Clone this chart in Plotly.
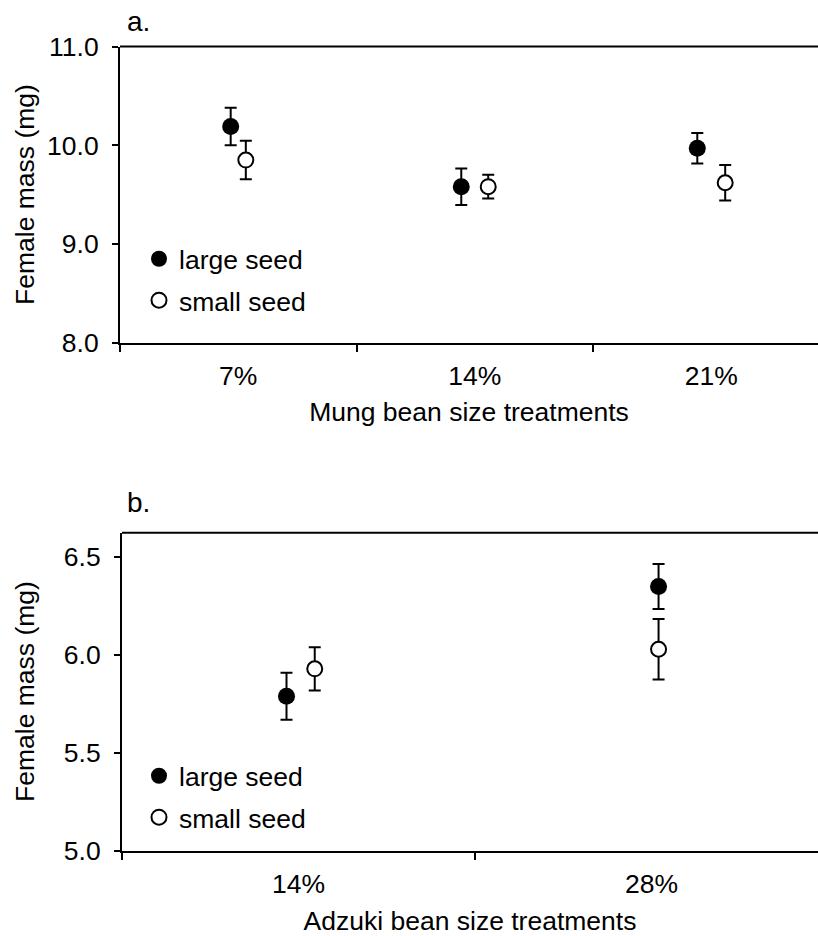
import plotly.graph_objects as go

# ---------------- data ----------------
mung_categories = ['7%', '14%', '21%']
mung_large_mean = [10.19, 9.58, 9.97]
mung_large_se = [0.19, 0.185, 0.155]
mung_small_mean = [9.85, 9.58, 9.62]
mung_small_se = [0.195, 0.12, 0.18]

adzuki_categories = ['14%', '28%']
adzuki_large_mean = [5.79, 6.35]
adzuki_large_se = [0.12, 0.115]
adzuki_small_mean = [5.93, 6.03]
adzuki_small_se = [0.11, 0.155]

series_names = ['large seed', 'small seed']
mung_yticks = [8.0, 9.0, 10.0, 11.0]
adzuki_yticks = [5.0, 5.5, 6.0, 6.5]
y_title = 'Female mass (mg)'
mung_x_title = 'Mung bean size treatments'
adzuki_x_title = 'Adzuki bean size treatments'

# ---------------- style / layout ----------------
W, H = 818, 936
FONT = 'Liberation Sans, Arial, Helvetica, sans-serif'
FS = 26.5
BLACK = '#000000'

def px_x(p):
    return p / W

def px_y(p):
    return 1 - p / H

# per-category dodge (half separation) and shift, in category units
mung_dodge = [0.032, 0.057, 0.059]
mung_shift = [0.0, 0.0, 0.0]
adzuki_dodge = [0.04, 0.0]
adzuki_shift = [0.006, 0.02]

marker_styles = [
    dict(symbol='circle', size=17, color=BLACK, line=dict(width=0, color=BLACK)),
    dict(symbol='circle', size=15, color='white', line=dict(width=2, color=BLACK)),
]

fig = go.Figure()

def add_panel(cats, means, ses, dodge, shift, xa, ya, legend):
    for k, (name, m, s) in enumerate(zip(series_names, means, ses)):
        sign = -1 if k == 0 else 1
        xs = [i + shift[i] + sign * dodge[i] for i in range(len(cats))]
        fig.add_trace(go.Scatter(
            x=xs, y=m, mode='markers', name=name,
            xaxis=xa, yaxis=ya, legend=legend,
            legendgroup=legend + name,
            marker=marker_styles[k],
            error_y=dict(type='data', array=s, visible=True,
                         color=BLACK, thickness=2, width=6),
            showlegend=True,
        ))

add_panel(mung_categories, [mung_large_mean, mung_small_mean],
          [mung_large_se, mung_small_se], mung_dodge, mung_shift, 'x', 'y', 'legend')
add_panel(adzuki_categories, [adzuki_large_mean, adzuki_small_mean],
          [adzuki_large_se, adzuki_small_se], adzuki_dodge, adzuki_shift, 'x2', 'y2', 'legend2')

tickfont = dict(family=FONT, size=FS, color=BLACK)

def xaxis_cfg(cats, spacing_px, left_px, title, standoff):
    n = len(cats)
    right = -0.5 + (W - left_px) / spacing_px
    return dict(
        domain=[px_x(left_px), 1.0],
        range=[-0.5, right],
        tickmode='array',
        tickvals=list(range(n)),
        ticktext=cats,
        ticks='',
        ticklen=0,
        showline=True, linewidth=2, linecolor=BLACK,
        showgrid=False, zeroline=False,
        tickfont=tickfont,
        ticklabelstandoff=8,
        minor=dict(tickmode='array', tickvals=[i - 0.5 for i in range(n + 1)],
                   ticks='outside', ticklen=7, tickwidth=2, tickcolor=BLACK,
                   showgrid=False),
        title=dict(text=title, font=dict(family=FONT, size=FS, color=BLACK), standoff=standoff),
        automargin=False,
        fixedrange=True,
    )

def yaxis_cfg(ticks, rng, dom, anchor):
    return dict(
        domain=dom,
        range=rng,
        anchor=anchor,
        tickmode='array',
        tickvals=ticks,
        ticktext=[f'{t:.1f}' for t in ticks],
        ticks='outside', ticklen=6, tickwidth=2, tickcolor=BLACK,
        showline=True, linewidth=2, linecolor=BLACK,
        showgrid=False, zeroline=False,
        tickfont=tickfont,
        ticklabelstandoff=8,
        automargin=False,
        fixedrange=True,
    )

legend_common = dict(xanchor='left', yanchor='top',
                     font=dict(family=FONT, size=FS, color=BLACK),
                     bgcolor='rgba(0,0,0,0)', borderwidth=0, tracegroupgap=4)

fig.update_layout(
    width=W, height=H,
    margin=dict(l=0, r=0, t=0, b=0),
    paper_bgcolor='white', plot_bgcolor='white',
    font=dict(family=FONT, size=FS, color=BLACK),
    xaxis=dict(**xaxis_cfg(mung_categories, 236.5, 120, mung_x_title, 13), anchor='y'),
    yaxis=yaxis_cfg(mung_yticks, [8.0, 11.0], [px_y(342.7), px_y(46.5)], 'x'),
    xaxis2=dict(**xaxis_cfg(adzuki_categories, 353, 122, adzuki_x_title, 16), anchor='y2'),
    yaxis2=yaxis_cfg(adzuki_yticks, [5.0, 6.625], [px_y(851), px_y(532.7)], 'x2'),
    legend=dict(x=px_x(139), y=px_y(235), **legend_common),
    legend2=dict(x=px_x(139), y=px_y(752), **legend_common),
    showlegend=True,
    shapes=[
        dict(type='line', xref='x domain', yref='y domain', x0=0, x1=1, y0=1, y1=1,
             line=dict(color=BLACK, width=2)),
        dict(type='line', xref='x2 domain', yref='y2 domain', x0=0, x1=1, y0=1, y1=1,
             line=dict(color=BLACK, width=2)),
    ],
    annotations=[
        dict(text='a.', xref='paper', yref='paper', x=px_x(125), y=px_y(21),
             xanchor='left', yanchor='middle', showarrow=False,
             font=dict(family=FONT, size=28, color=BLACK)),
        dict(text='b.', xref='paper', yref='paper', x=px_x(125), y=px_y(502),
             xanchor='left', yanchor='middle', showarrow=False,
             font=dict(family=FONT, size=28, color=BLACK)),
        dict(text=y_title, xref='paper', yref='paper', x=px_x(25), y=px_y(195),
             xanchor='center', yanchor='middle', textangle=-90, showarrow=False,
             font=dict(family=FONT, size=FS, color=BLACK)),
        dict(text=y_title, xref='paper', yref='paper', x=px_x(25), y=px_y(692),
             xanchor='center', yanchor='middle', textangle=-90, showarrow=False,
             font=dict(family=FONT, size=FS, color=BLACK)),
    ],
)

fig.write_html('out.html')
